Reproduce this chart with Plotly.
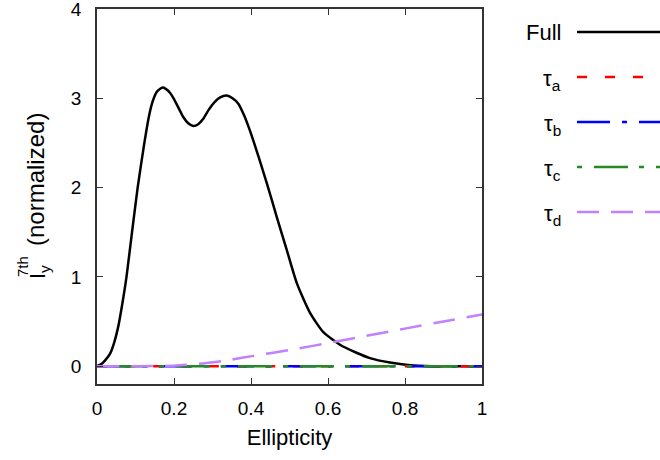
import plotly.graph_objects as go

# ---- data ----
full_x = [0, 0.01, 0.02, 0.034, 0.045, 0.055, 0.065, 0.0766, 0.091, 0.1056, 0.123, 0.135,
          0.145, 0.155, 0.165, 0.172, 0.18, 0.19, 0.2, 0.212, 0.224, 0.237, 0.25, 0.263,
          0.276, 0.29, 0.306, 0.32, 0.337, 0.352, 0.367, 0.382, 0.397, 0.42, 0.441, 0.467,
          0.493, 0.519, 0.553, 0.588, 0.631, 0.674, 0.709, 0.761, 0.813, 0.87, 1.0]
full_y = [0, 0.02, 0.06, 0.14, 0.27, 0.44, 0.68, 1.0, 1.5, 2.0, 2.5, 2.8,
          2.97, 3.07, 3.11, 3.12, 3.1, 3.06, 2.99, 2.89, 2.79, 2.72, 2.69, 2.71,
          2.77, 2.87, 2.96, 3.01, 3.03, 3.0, 2.94, 2.81, 2.64, 2.34, 2.05, 1.67,
          1.30, 0.93, 0.60, 0.38, 0.24, 0.15, 0.09, 0.04, 0.01, 0.0, 0.0]

flat_x = [0, 0.25, 0.5, 0.75, 1.0]
tau_a = [0, 0, 0, 0, 0]
tau_b = [0, 0, 0, 0, 0]
tau_c = [0, 0, 0, 0, 0]

tau_d_x = [0, 0.1, 0.2, 0.276, 0.33, 0.406, 0.5, 0.614, 0.7, 0.8, 0.9, 1.0]
tau_d_y = [0, 0.0, 0.005, 0.03, 0.06, 0.115, 0.18, 0.27, 0.34, 0.42, 0.5, 0.58]

x_ticks = [0, 0.2, 0.4, 0.6, 0.8, 1]
x_tick_labels = ["0", "0.2", "0.4", "0.6", "0.8", "1"]
y_ticks = [0, 1, 2, 3, 4]
y_tick_labels = ["0", "1", "2", "3", "4"]

legend_names = ["Full", "τ<sub>a</sub>", "τ<sub>b</sub>", "τ<sub>c</sub>", "τ<sub>d</sub>"]

# ---- styles ----
FONT = "Liberation Sans, Arial, Helvetica, sans-serif"
TITLE_SIZE = 22
styles = [
    dict(color="black", width=2.5, dash="solid"),
    dict(color="#ff0000", width=2.5, dash="10px,18px"),
    dict(color="#0000ff", width=2.5, dash="33px,12px,5px,12px"),
    dict(color="#228b22", width=2.5, dash="5px,12px,34px,11px"),
    dict(color="#c080ff", width=2.5, dash="22px,12px"),
]

fig = go.Figure()
series = [
    (full_x, full_y),
    (flat_x, tau_a),
    (flat_x, tau_b),
    (flat_x, tau_c),
    (tau_d_x, tau_d_y),
]
for (xs, ys), st in zip(series, styles):
    fig.add_trace(go.Scatter(
        x=xs, y=ys, mode="lines",
        line=dict(color=st["color"], width=st["width"], dash=st["dash"],
                  shape="spline", smoothing=0.6),
        showlegend=False, hoverinfo="skip"))

W, H = 660, 460
PW, PH = 385, 375
L, T = 97, 9
R, B = W - L - PW, H - T - PH

def px_to_paper_x(px):
    return (px - L) / PW

def py_to_paper_y(py):
    return (T + PH - py) / PH

annotations = []
shapes = []
legend_rows = [32, 77, 122, 167, 212]
for i, (name, st, row) in enumerate(zip(legend_names, styles, legend_rows)):
    text_row = row if i == 0 else row + 3
    annotations.append(dict(
        xref="paper", yref="paper", x=px_to_paper_x(563), y=py_to_paper_y(text_row),
        xanchor="right", yanchor="middle", text=name, showarrow=False,
        font=dict(family=FONT, size=TITLE_SIZE, color="black")))
    shapes.append(dict(
        type="line", xref="paper", yref="paper",
        x0=px_to_paper_x(577), x1=px_to_paper_x(700),
        y0=py_to_paper_y(row), y1=py_to_paper_y(row),
        line=dict(color=st["color"], width=st["width"], dash=st["dash"])))

# y-axis title pieces: I_y^{7th} (normalized)
annotations.append(dict(
    xref="paper", yref="paper", x=px_to_paper_x(36), y=py_to_paper_y(180),
    xanchor="center", yanchor="middle", text="(normalized)", textangle=-90,
    showarrow=False, font=dict(family=FONT, size=24, color="black")))
annotations.append(dict(
    xref="paper", yref="paper", x=px_to_paper_x(39), y=py_to_paper_y(272),
    xanchor="center", yanchor="middle", text="I<sub>y</sub>", textangle=-90,
    showarrow=False, font=dict(family=FONT, size=TITLE_SIZE, color="black")))
annotations.append(dict(
    xref="paper", yref="paper", x=px_to_paper_x(22), y=py_to_paper_y(267),
    xanchor="center", yanchor="middle", text="7th", textangle=-90,
    showarrow=False, font=dict(family=FONT, size=15, color="black")))

axis_common = dict(
    showline=True, mirror="ticks", linecolor="#333333", linewidth=1.5,
    ticks="inside", ticklen=6, tickwidth=1, tickcolor="#333333",
    showgrid=False, zeroline=False, automargin=False,
    ticklabeloverflow="allow",
    tickfont=dict(family=FONT, size=19, color="black"),
)

fig.update_layout(
    width=W, height=H,
    margin=dict(l=L, r=R, t=T, b=B, autoexpand=False),
    paper_bgcolor="white", plot_bgcolor="white",
    xaxis=dict(range=[0, 1], tickvals=x_ticks, ticktext=x_tick_labels,
               title=dict(text="Ellipticity",
                          font=dict(family=FONT, size=TITLE_SIZE, color="black"),
                          standoff=12),
               ticklabelstandoff=6, **axis_common),
    yaxis=dict(range=[-0.2, 4], tickvals=y_ticks, ticktext=y_tick_labels,
               ticklabelstandoff=10, **axis_common),
    annotations=annotations,
    shapes=shapes,
    showlegend=False,
)

fig.write_html("out.html", config={"displayModeBar": False},
               post_script="document.body.style.margin='0';")
